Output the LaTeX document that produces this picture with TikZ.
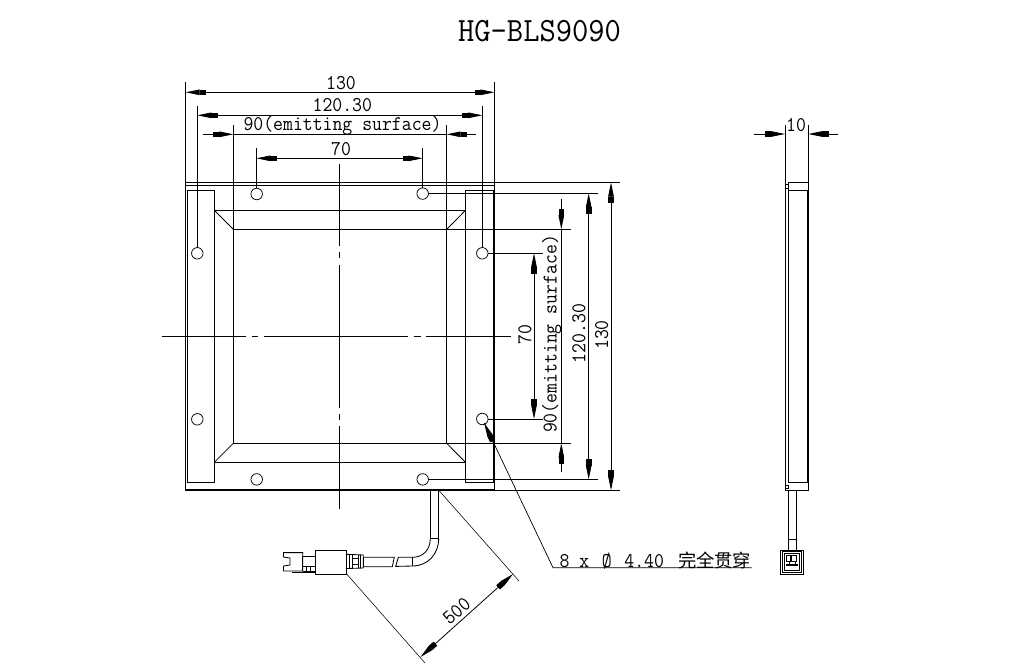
\documentclass[tikz,border=0pt]{standalone}
\usepackage{fontspec}
\usepackage{graphicx}
\usetikzlibrary{arrows.meta}
\newfontfamily\cjk{Noto Sans CJK SC}
\newcommand{\narrow}[1]{\scalebox{0.915}[1]{#1}}
\tikzset{
  x=1pt,y=-1pt,
  every node/.style={inner sep=0pt,outer sep=0pt,text=black},
  ln/.style={draw=black,line width=0.85pt},
  thin ln/.style={draw=black,line width=0.65pt},
  heavy/.style={draw=black,line width=1.7pt},
  center ln/.style={draw=black,line width=0.75pt},
  dimtip/.tip={Rectangle[length=6pt,width=5.5pt,sep=0pt] Triangle[length=14pt,width=5.5pt]},
  dim/.style={draw=black,line width=0.8pt,{dimtip}-{dimtip}},
  dimin/.style={draw=black,line width=0.8pt,-{dimtip}},
  lbl/.style={font=\ttfamily\fontsize{21}{21}\selectfont},
  ttl/.style={font=\ttfamily\fontsize{34}{34}\selectfont},
}
\begin{document}
\begin{tikzpicture}
\useasboundingbox[fill=white] (0,0) rectangle (1018,670);
% title
\node[ttl] (title) at (539.5,31) {\scalebox{0.93}[1]{HG-BLS9090}};
% front view
\coordinate (fTL) at (185.7,182.7);
\coordinate (fBR) at (494.5,490);
\draw[ln] (fTL) rectangle (fBR);
\draw[ln] (185.7,185.2) -- (494.5,185.2);
\draw[heavy] (185.7,489.6) -- (494.5,489.6);
\draw[ln] (187.3,482.3) -- (187.3,190.7) -- (214.3,190.7) -- (214.3,482.3) -- cycle;
\draw[ln] (465.5,190.7) rectangle (493.5,482.3);
\draw[ln] (214.3,210.3) -- (465.5,210.3);
\draw[ln] (214.3,462.3) -- (465.5,462.3);
\draw[ln] (233.3,229.3) rectangle (446.7,443.3);
\draw[ln] (214.3,210.3) -- (233.3,229.3);
\draw[ln] (465.5,210.3) -- (446.7,229.3);
\draw[ln] (214.3,462.3) -- (233.3,443.3);
\draw[ln] (465.5,462.3) -- (446.7,443.3);
% holes
\foreach \n/\x/\y in {a/256.7/194,b/422.7/193.6,c/197.3/253.3,d/482.3/253.3,e/197.3/419.3,f/482.3/419,g/256.7/479.4,h/422.7/479.4}
  \node[circle,draw=black,line width=0.75pt,minimum size=11.5pt] (hole\n) at (\x,\y) {};
% centre lines
\draw[center ln] (339.5,164) -- (339.5,246) (339.5,252) -- (339.5,258) (339.5,264.5) -- (339.5,407.5) (339.5,414) -- (339.5,420) (339.5,426) -- (339.5,508.5);
\draw[center ln] (162,336) -- (245.5,336) (251.5,336) -- (258,336) (264,336) -- (407.5,336) (413.5,336) -- (420.5,336) (426,336) -- (510.7,336);
% horizontal dimensions
\draw[thin ln] (185.7,82) -- (185.7,182.7) (494.5,82) -- (494.5,182.7);
\draw[dim] (185.7,92.3) -- (494.5,92.3);
\node[lbl] (d130) at (341,83) {\narrow{130}};
\draw[thin ln] (197.3,106) -- (197.3,248) (482.3,106) -- (482.3,248);
\draw[dim] (197.3,115.3) -- (482.3,115.3);
\node[lbl] (d120) at (342.3,105) {\narrow{120.30}};
\draw[thin ln] (233.3,125) -- (233.3,229.3) (446.7,125) -- (446.7,229.3);
\coordinate (n90L) at (203.3,134.3);
\coordinate (n90R) at (475.7,134.3);
\draw[dimin] (n90L) -- (233.3,134.3);
\draw[dimin] (n90R) -- (446.7,134.3);
\draw[thin ln] (233.3,134.3) -- (446.7,134.3);
\node[lbl] (d90) at (342.5,125.5) {\narrow{90(emitting surface)}};
\draw[thin ln] (256.4,148.3) -- (256.4,188.2) (422.7,148.3) -- (422.7,187.8);
\draw[dim] (256.4,158.3) -- (422.7,158.3);
\node[lbl] (d70) at (341,149) {\narrow{70}};
% vertical dimensions
\draw[thin ln] (494.5,182.5) -- (620,182.5) (494.5,490.3) -- (620,490.3);
\draw[dim] (611,182.5) -- (611,490.3);
\node[lbl,rotate=90] (v130) at (601.7,335) {\narrow{130}};
\draw[thin ln] (428.4,193.4) -- (597.7,193.4) (428.4,479.4) -- (597.7,479.4);
\draw[dim] (588.7,193.4) -- (588.7,479.4);
\node[lbl,rotate=90] (v120) at (579,333.5) {\narrow{120.30}};
\draw[thin ln] (446.7,229.3) -- (570.7,229.3) (446.7,443.3) -- (570.7,443.3);
\draw[dimin] (561.3,199.3) -- (561.3,229.3);
\draw[dimin] (561.3,472.3) -- (561.3,443.3);
\draw[thin ln] (561.3,229.3) -- (561.3,443.3);
\node[lbl,rotate=90] (v90) at (551.7,334) {\narrow{90(emitting surface)}};
\draw[thin ln] (488,253.3) -- (542.7,253.3) (488,419) -- (542.7,419);
\draw[dim] (534,253.3) -- (534,419);
\node[lbl,rotate=90] (v70) at (525,334.5) {\narrow{70}};
% leader
\coordinate (lead) at (553,567.7);
\coordinate (leadEnd) at (751.7,567.7);
\draw[draw=black,line width=0.7pt] (leadEnd) -- (lead) -- (484.2,423);
\draw[draw=black,line width=0.7pt,-{dimtip}] (493.2,442.5) -- (484.2,423);
\node[lbl,anchor=base west] (note) at (559.5,567) {\narrow{8 x\hspace{3pt} Ø\hspace{3pt} 4.40}};
\node[anchor=base west,font=\cjk\fontsize{18.3}{18.3}\selectfont] (notecjk) at (678,567) {完全贯穿};
% cable, front view
\draw[ln] (430.3,490) -- (430.3,538.3) (438.7,490) -- (438.7,538.3);
\draw[ln] (430.3,538.3) -- (438.7,538.3);
\draw[ln] (430.3,538.3) .. controls (430.3,550) and (423,557.3) .. (412.3,557.3);
\draw[ln] (438.7,538.3) .. controls (438.7,554) and (428,566) .. (412.3,566);
\draw[ln] (412.3,557.3) -- (412.3,566);
\draw[ln] (412.3,557.3) -- (398.3,557.3) -- (395.7,566.4) -- (412.3,566);
\draw[ln] (394.3,557.3) -- (363.5,557.3) -- (363.5,566.7) -- (392.3,566.7) -- cycle;
% connector, front view
\draw[ln] (315.5,550.5) rectangle (346.7,574);
\draw[ln] (346.7,554.3) -- (363.3,555) -- (363.3,568) -- (346.7,568.5);
\draw[ln] (349.5,554.5) -- (349.5,568.5) (352,555) -- (352,568.5) (358,555) -- (358,568) (360.5,555) -- (360.5,568);
\draw[ln] (352,558.5) -- (358,558.5) (352,564.5) -- (358,564.5);
\draw[ln] (302.7,556) rectangle (315.5,566.7);
\draw[ln] (283.5,552.6) -- (302.7,552.6) -- (302.7,571) -- (283.5,571) -- (283.5,566) -- (290,565) -- (290,558) -- (283.5,557) -- cycle;
\draw[heavy] (292,572.5) -- (315.5,572.5);
\draw[ln] (302.7,566.7) -- (302.7,571) (306,566.7) -- (306,571) (310,566.7) -- (310,571) (302.7,571) -- (315.5,571);
% dimension 500
\coordinate (e1a) at (439,490.5);
\coordinate (e1b) at (519,581);
\coordinate (e2a) at (346.7,574);
\coordinate (e2b) at (425,663);
\draw[draw=black,line width=0.55pt] (e1a) -- (e1b) (e2a) -- (e2b);
\draw[dim] (513,574) -- (420.5,657);
\node[lbl,rotate=41] (d500) at (456.7,611) {\narrow{500}};
% side view
\draw[thin ln] (785,125) -- (785,490) -- (808.3,490) -- (808.3,125);
\coordinate (s1) at (754,134);
\coordinate (s2) at (838,134);
\draw[dimin] (s1) -- (785,134);
\draw[dimin] (s2) -- (808.3,134);
\node[lbl] (d10) at (796,125) {\narrow{10}};
\draw[ln] (788,182.5) -- (808.3,182.5);
\draw[ln] (788,190) -- (808.3,190);
\draw[ln] (788,182.5) -- (788,482.7) -- (808.3,482.7);
\draw[heavy] (807.6,190) -- (807.6,482.7);
\draw[ln] (785,184.5) rectangle (788,188.5);
\draw[ln] (785,485) rectangle (788,488.3);
% side cable & plug
\draw[ln] (788.3,490) -- (788.3,550) (796.7,490) -- (796.7,550);
\draw[ln] (788.3,539) -- (796.7,539);
\draw[ln] (780.7,550) rectangle (803.3,574);
\draw[ln] (782.5,551.8) rectangle (801.5,572.2);
\draw[ln] (784.3,553.5) rectangle (799.8,570);
\draw[ln] (786.3,555.7) rectangle (790.7,561);
\draw[ln] (791.8,555.7) rectangle (796.7,561);
\draw[heavy] (786.3,565) -- (798,565);
\draw[ln] (789,561) -- (789,565) (795,561) -- (795,565);
\draw[heavy] (788,574.5) -- (795,574.5);
\end{tikzpicture}
\end{document}
